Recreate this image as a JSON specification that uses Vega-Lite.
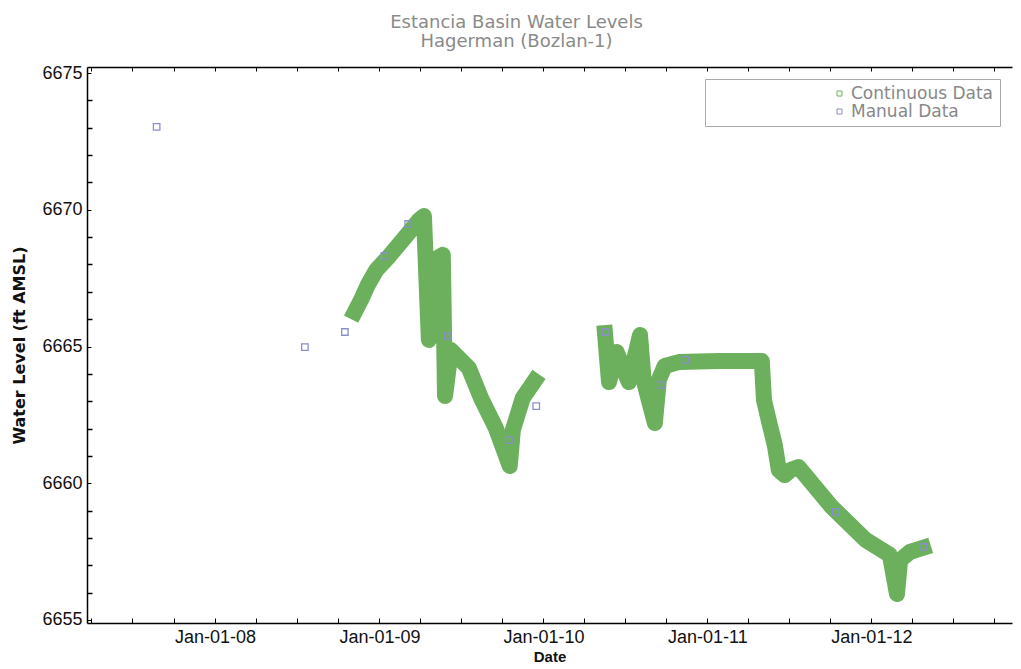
{
  "$schema": "https://vega.github.io/schema/vega-lite/v6.json",
  "width": 925,
  "height": 556,
  "autosize": {"type": "none"},
  "padding": {"left": 87, "top": 67, "right": 9, "bottom": 46},
  "config": {"view": {"stroke": null}, "font": "Liberation Sans"},
  "title": {
    "text": "Estancia Basin Water Levels",
    "subtitle": "Hagerman (Bozlan-1)",
    "anchor": "middle",
    "frame": "group",
    "dx": -33,
    "offset": 13,
    "font": "DejaVu Sans",
    "fontSize": 18,
    "fontWeight": "normal",
    "color": "#8a8a8a",
    "subtitleFont": "DejaVu Sans",
    "subtitleFontSize": 18,
    "subtitleColor": "#8a8a8a",
    "subtitlePadding": 1
  },
  "datasets": {
    "continuous": [
      {"date": "2008-11-07", "level": 6666.26, "segment": "A", "series": "Continuous Data"},
      {"date": "2008-11-23", "level": 6666.77, "segment": "A", "series": "Continuous Data"},
      {"date": "2008-12-06", "level": 6667.25, "segment": "A", "series": "Continuous Data"},
      {"date": "2008-12-25", "level": 6667.80, "segment": "A", "series": "Continuous Data"},
      {"date": "2009-01-23", "level": 6668.31, "segment": "A", "series": "Continuous Data"},
      {"date": "2009-03-01", "level": 6669.04, "segment": "A", "series": "Continuous Data"},
      {"date": "2009-03-30", "level": 6669.62, "segment": "A", "series": "Continuous Data"},
      {"date": "2009-04-10", "level": 6669.77, "segment": "A", "series": "Continuous Data"},
      {"date": "2009-04-21", "level": 6665.24, "segment": "A", "series": "Continuous Data"},
      {"date": "2009-05-02", "level": 6668.16, "segment": "A", "series": "Continuous Data"},
      {"date": "2009-05-22", "level": 6668.35, "segment": "A", "series": "Continuous Data"},
      {"date": "2009-05-27", "level": 6663.19, "segment": "A", "series": "Continuous Data"},
      {"date": "2009-06-09", "level": 6664.87, "segment": "A", "series": "Continuous Data"},
      {"date": "2009-07-19", "level": 6664.21, "segment": "A", "series": "Continuous Data"},
      {"date": "2009-08-15", "level": 6663.12, "segment": "A", "series": "Continuous Data"},
      {"date": "2009-09-17", "level": 6662.02, "segment": "A", "series": "Continuous Data"},
      {"date": "2009-10-18", "level": 6660.63, "segment": "A", "series": "Continuous Data"},
      {"date": "2009-10-25", "level": 6661.95, "segment": "A", "series": "Continuous Data"},
      {"date": "2009-11-16", "level": 6663.12, "segment": "A", "series": "Continuous Data"},
      {"date": "2009-12-12", "level": 6663.74, "segment": "A", "series": "Continuous Data"},
      {"date": "2010-05-18", "level": 6665.49, "segment": "B", "series": "Continuous Data"},
      {"date": "2010-05-27", "level": 6663.70, "segment": "B", "series": "Continuous Data"},
      {"date": "2010-06-13", "level": 6664.80, "segment": "B", "series": "Continuous Data"},
      {"date": "2010-07-10", "level": 6663.70, "segment": "B", "series": "Continuous Data"},
      {"date": "2010-08-04", "level": 6665.42, "segment": "B", "series": "Continuous Data"},
      {"date": "2010-08-12", "level": 6663.78, "segment": "B", "series": "Continuous Data"},
      {"date": "2010-09-06", "level": 6662.20, "segment": "B", "series": "Continuous Data"},
      {"date": "2010-09-15", "level": 6663.78, "segment": "B", "series": "Continuous Data"},
      {"date": "2010-09-28", "level": 6664.29, "segment": "B", "series": "Continuous Data"},
      {"date": "2010-10-29", "level": 6664.43, "segment": "B", "series": "Continuous Data"},
      {"date": "2011-01-27", "level": 6664.47, "segment": "B", "series": "Continuous Data"},
      {"date": "2011-05-02", "level": 6664.47, "segment": "B", "series": "Continuous Data"},
      {"date": "2011-05-07", "level": 6663.04, "segment": "B", "series": "Continuous Data"},
      {"date": "2011-05-20", "level": 6662.13, "segment": "B", "series": "Continuous Data"},
      {"date": "2011-05-31", "level": 6661.40, "segment": "B", "series": "Continuous Data"},
      {"date": "2011-06-09", "level": 6660.48, "segment": "B", "series": "Continuous Data"},
      {"date": "2011-06-22", "level": 6660.30, "segment": "B", "series": "Continuous Data"},
      {"date": "2011-07-05", "level": 6660.48, "segment": "B", "series": "Continuous Data"},
      {"date": "2011-07-23", "level": 6660.59, "segment": "B", "series": "Continuous Data"},
      {"date": "2011-10-05", "level": 6659.13, "segment": "B", "series": "Continuous Data"},
      {"date": "2011-12-20", "level": 6657.92, "segment": "B", "series": "Continuous Data"},
      {"date": "2012-02-11", "level": 6657.38, "segment": "B", "series": "Continuous Data"},
      {"date": "2012-02-27", "level": 6655.95, "segment": "B", "series": "Continuous Data"},
      {"date": "2012-03-05", "level": 6657.19, "segment": "B", "series": "Continuous Data"},
      {"date": "2012-03-27", "level": 6657.49, "segment": "B", "series": "Continuous Data"},
      {"date": "2012-04-25", "level": 6657.64, "segment": "B", "series": "Continuous Data"}
    ],
    "manual": [
      {"date": "2007-08-24", "level": 6673.03, "series": "Manual Data"},
      {"date": "2008-07-19", "level": 6664.98, "series": "Manual Data"},
      {"date": "2008-10-16", "level": 6665.53, "series": "Manual Data"},
      {"date": "2009-01-12", "level": 6668.31, "series": "Manual Data"},
      {"date": "2009-03-06", "level": 6669.48, "series": "Manual Data"},
      {"date": "2009-06-02", "level": 6665.38, "series": "Manual Data"},
      {"date": "2009-10-16", "level": 6661.58, "series": "Manual Data"},
      {"date": "2009-12-16", "level": 6662.82, "series": "Manual Data"},
      {"date": "2010-05-20", "level": 6665.53, "series": "Manual Data"},
      {"date": "2010-09-19", "level": 6663.59, "series": "Manual Data"},
      {"date": "2010-11-12", "level": 6664.51, "series": "Manual Data"},
      {"date": "2011-10-14", "level": 6658.95, "series": "Manual Data"},
      {"date": "2012-04-25", "level": 6657.67, "series": "Manual Data"}
    ]
  },
  "layer": [
    {
      "data": {"name": "continuous"},
      "mark": {"type": "line", "strokeWidth": 16, "strokeCap": "square", "strokeJoin": "round"},
      "encoding": {
        "x": {
          "field": "date", "type": "temporal",
          "scale": {"type": "utc", "domain": [{"year": 2007, "month": 3, "date": 22, "utc": true}, {"year": 2012, "month": 11, "date": 9, "utc": true}]},
          "axis": {
            "orient": "bottom",
            "title": "Date",
            "titleFontSize": 15, "titleFontWeight": "bold", "titleColor": "#111", "titlePadding": 3,
            "values": [
              {"year": 2007, "month": 4, "date": 1, "utc": true}, {"year": 2007, "month": 7, "date": 1, "utc": true}, {"year": 2007, "month": 10, "date": 1, "utc": true},
              {"year": 2008, "month": 1, "date": 1, "utc": true}, {"year": 2008, "month": 4, "date": 1, "utc": true}, {"year": 2008, "month": 7, "date": 1, "utc": true}, {"year": 2008, "month": 10, "date": 1, "utc": true},
              {"year": 2009, "month": 1, "date": 1, "utc": true}, {"year": 2009, "month": 4, "date": 1, "utc": true}, {"year": 2009, "month": 7, "date": 1, "utc": true}, {"year": 2009, "month": 10, "date": 1, "utc": true},
              {"year": 2010, "month": 1, "date": 1, "utc": true}, {"year": 2010, "month": 4, "date": 1, "utc": true}, {"year": 2010, "month": 7, "date": 1, "utc": true}, {"year": 2010, "month": 10, "date": 1, "utc": true},
              {"year": 2011, "month": 1, "date": 1, "utc": true}, {"year": 2011, "month": 4, "date": 1, "utc": true}, {"year": 2011, "month": 7, "date": 1, "utc": true}, {"year": 2011, "month": 10, "date": 1, "utc": true},
              {"year": 2012, "month": 1, "date": 1, "utc": true}, {"year": 2012, "month": 4, "date": 1, "utc": true}, {"year": 2012, "month": 7, "date": 1, "utc": true}, {"year": 2012, "month": 10, "date": 1, "utc": true}
            ],
            "labelExpr": "utcmonth(datum.value) === 0 ? utcFormat(datum.value, '%b-%d-%y') : ''",
            "labelFontSize": 18, "labelColor": "#111", "labelPadding": 10, "labelFlush": false, "labelOverlap": false,
            "tickSize": -5, "tickColor": "#000", "domainColor": "#000", "domainWidth": 1.5, "grid": false
          }
        },
        "y": {
          "field": "level", "type": "quantitative",
          "scale": {"domain": [6654.89, 6675.22], "nice": false, "zero": false},
          "axis": {
            "title": "Water Level (ft AMSL)",
            "titleFont": "DejaVu Sans", "titleFontSize": 16, "titleFontWeight": "bold", "titleColor": "#111", "titlePadding": 14,
            "values": [6655, 6660, 6665, 6670, 6675],
            "format": "d",
            "labelFontSize": 18, "labelColor": "#111", "labelPadding": 9, "labelFlush": false, "labelOverlap": false,
            "tickSize": -4, "tickColor": "#000", "domainColor": "#000", "domainWidth": 1.5, "grid": false
          }
        },
        "detail": {"field": "segment", "type": "nominal"},
        "color": {
          "field": "series", "type": "nominal",
          "scale": {"domain": ["Continuous Data", "Manual Data"], "range": ["#6cb05e", "#8a8fca"]},
          "legend": {
            "title": null, "orient": "top-right", "offset": 12,
            "strokeColor": "#aaaaaa", "fillColor": "#ffffff", "padding": 6,
            "symbolType": "square", "symbolSize": 25, "symbolStrokeWidth": 1,
            "symbolStrokeColor": "#9a9ab8", "symbolFillColor": "transparent",
            "symbolOffset": 120, "labelOffset": 3,
            "labelFont": "DejaVu Sans", "labelFontSize": 17, "labelColor": "#888888", "rowPadding": 0
          }
        }
      }
    },
    {
      "data": {"name": "manual"},
      "mark": {"type": "point", "shape": "square", "filled": false, "size": 42, "strokeWidth": 1.3, "opacity": 1},
      "encoding": {
        "x": {
          "field": "date", "type": "temporal",
          "axis": {
            "orient": "top", "title": null, "labels": false,
            "values": [
              {"year": 2007, "month": 4, "date": 1, "utc": true}, {"year": 2007, "month": 7, "date": 1, "utc": true}, {"year": 2007, "month": 10, "date": 1, "utc": true},
              {"year": 2008, "month": 1, "date": 1, "utc": true}, {"year": 2008, "month": 4, "date": 1, "utc": true}, {"year": 2008, "month": 7, "date": 1, "utc": true}, {"year": 2008, "month": 10, "date": 1, "utc": true},
              {"year": 2009, "month": 1, "date": 1, "utc": true}, {"year": 2009, "month": 4, "date": 1, "utc": true}, {"year": 2009, "month": 7, "date": 1, "utc": true}, {"year": 2009, "month": 10, "date": 1, "utc": true},
              {"year": 2010, "month": 1, "date": 1, "utc": true}, {"year": 2010, "month": 4, "date": 1, "utc": true}, {"year": 2010, "month": 7, "date": 1, "utc": true}, {"year": 2010, "month": 10, "date": 1, "utc": true},
              {"year": 2011, "month": 1, "date": 1, "utc": true}, {"year": 2011, "month": 4, "date": 1, "utc": true}, {"year": 2011, "month": 7, "date": 1, "utc": true}, {"year": 2011, "month": 10, "date": 1, "utc": true},
              {"year": 2012, "month": 1, "date": 1, "utc": true}, {"year": 2012, "month": 4, "date": 1, "utc": true}, {"year": 2012, "month": 7, "date": 1, "utc": true}, {"year": 2012, "month": 10, "date": 1, "utc": true}
            ],
            "tickSize": -4, "tickColor": "#000", "domainColor": "#000", "domainWidth": 1.5, "grid": false
          }
        },
        "y": {
          "field": "level", "type": "quantitative",
          "axis": {
            "orient": "left", "title": null, "labels": false, "domain": false, "grid": false,
            "values": [6656, 6657, 6658, 6659, 6661, 6662, 6663, 6664, 6666, 6667, 6668, 6669, 6671, 6672, 6673, 6674],
            "tickSize": -5, "tickWidth": 1.5, "tickColor": "#000"
          }
        },
        "color": {"field": "series", "type": "nominal"}
      }
    }
  ],
  "resolve": {"axis": {"x": "independent", "y": "independent"}}
}
